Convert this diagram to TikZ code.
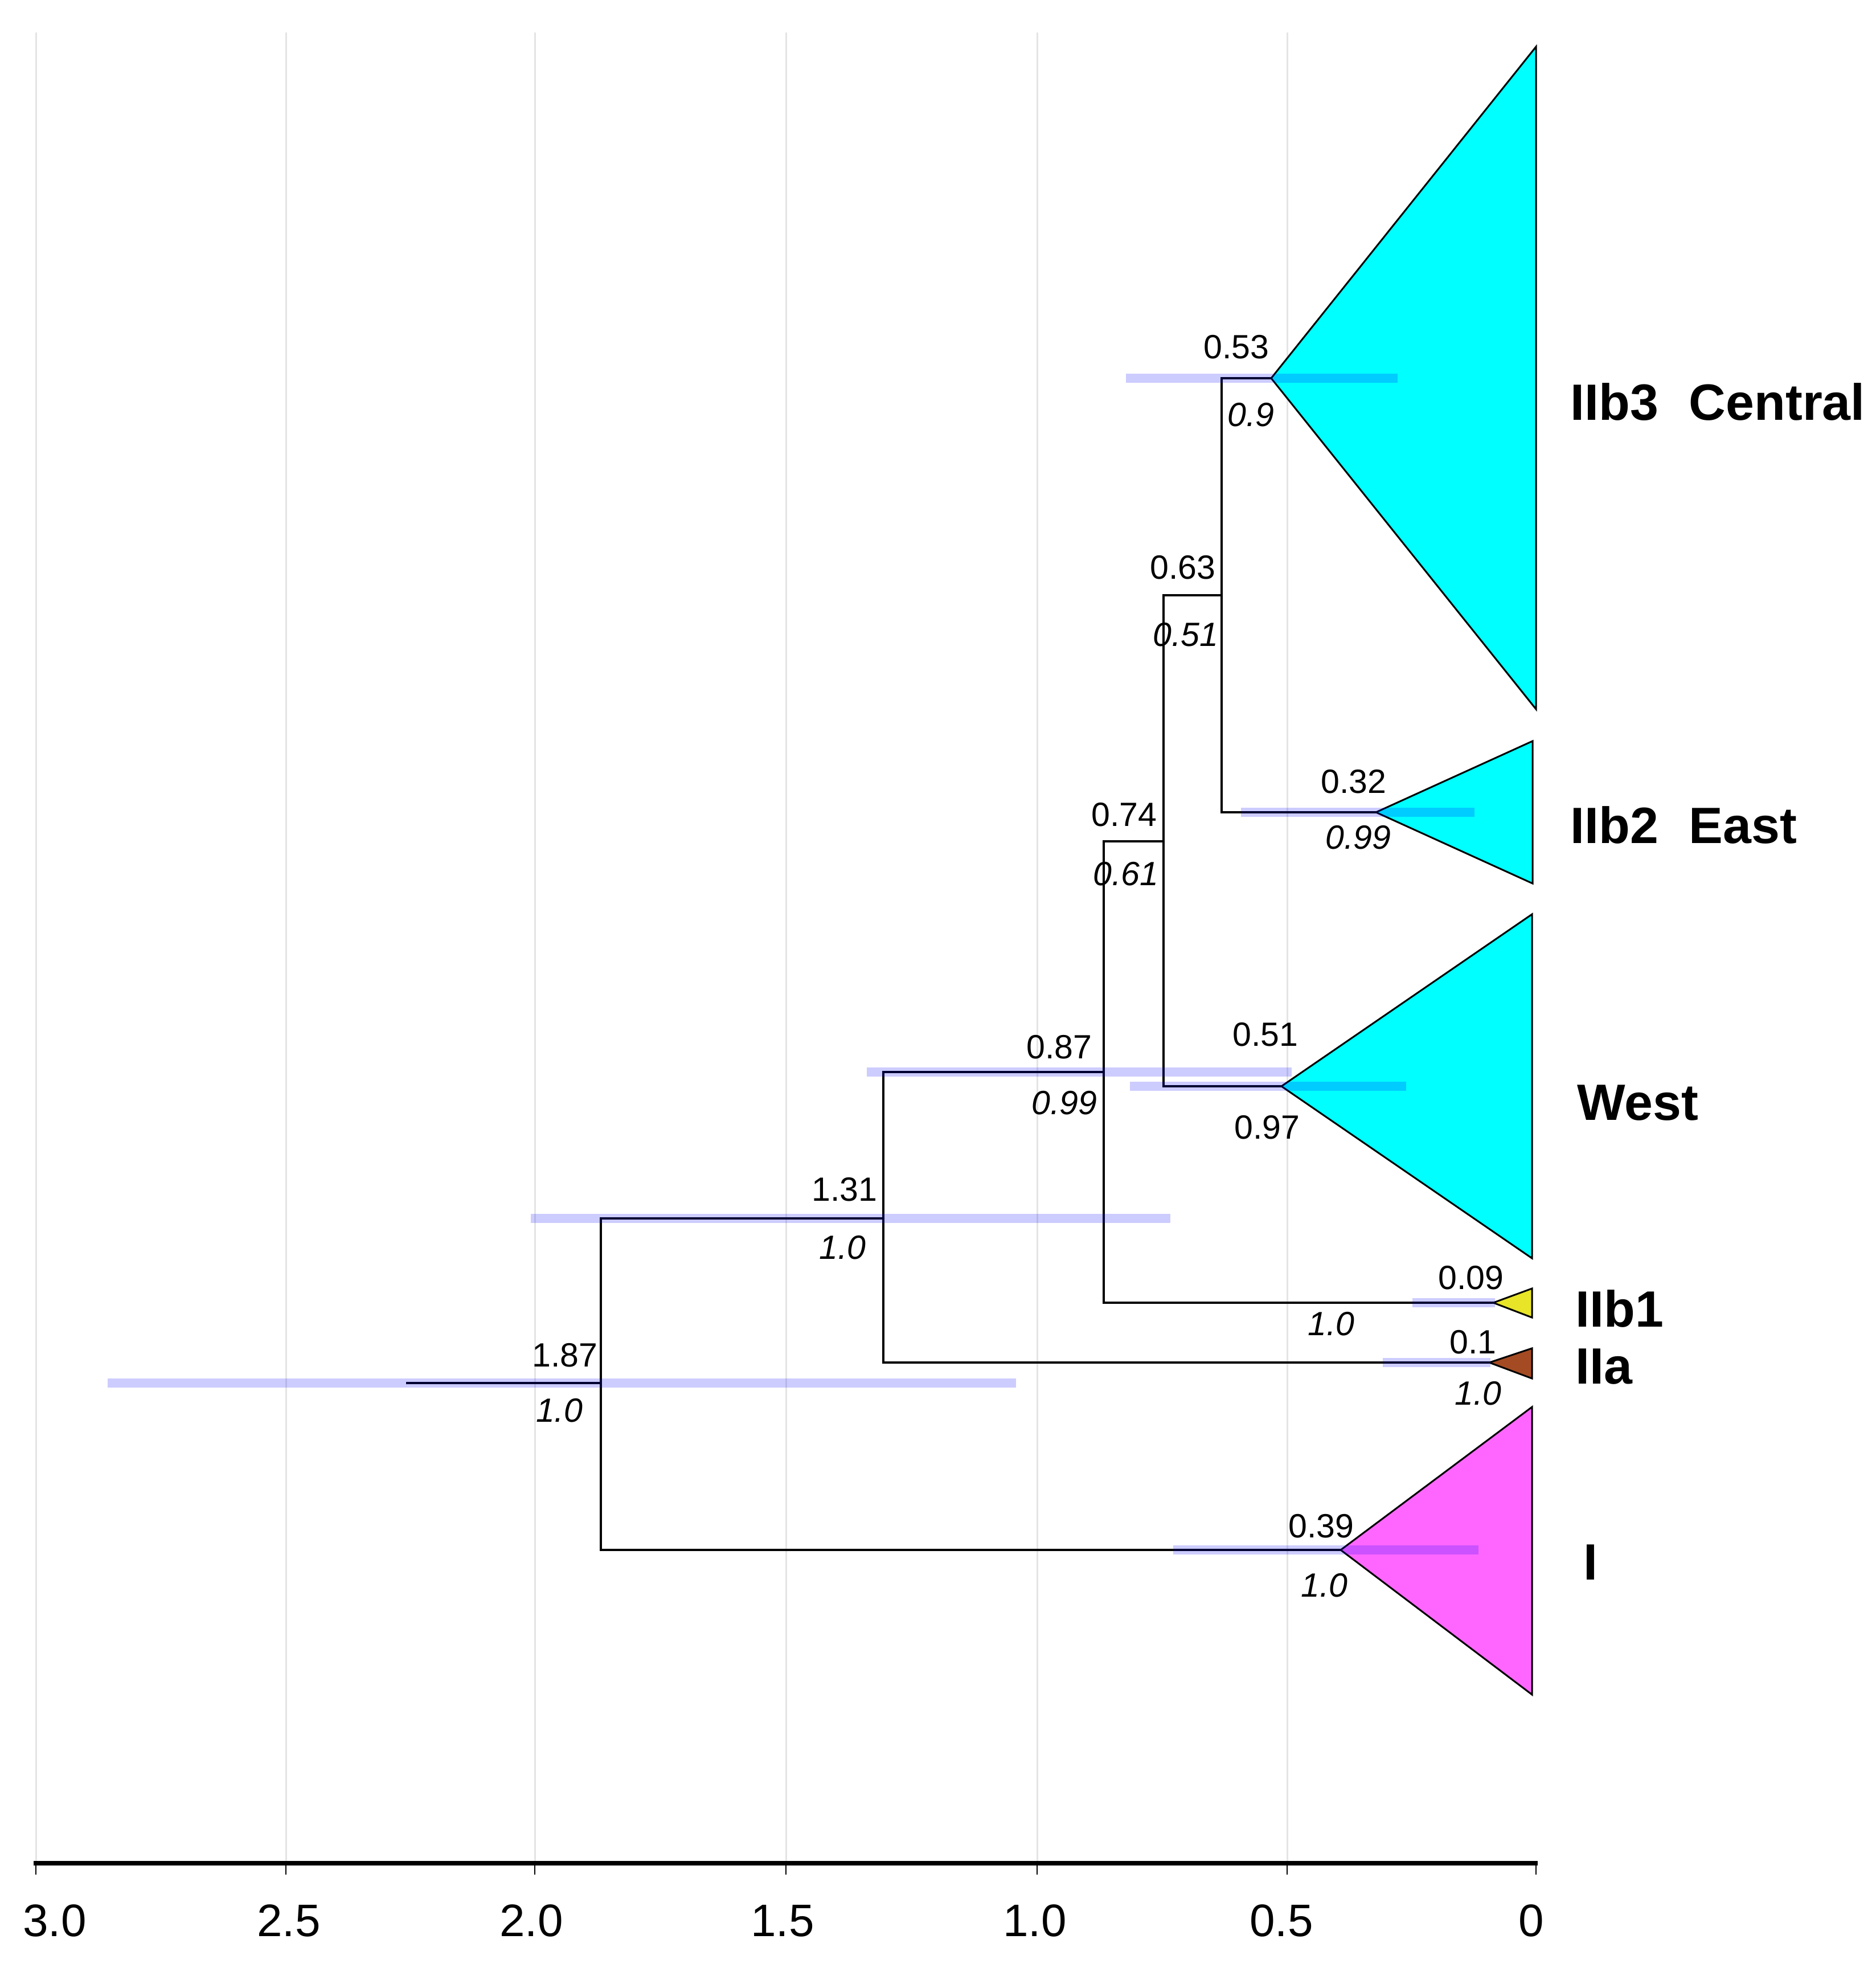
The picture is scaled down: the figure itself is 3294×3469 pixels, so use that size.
\documentclass[tikz,border=0pt]{standalone}
\usepackage{fontspec}
\setmainfont{Liberation Sans}
\newcommand\rsAge{\fontsize{14.75pt}{17pt}\selectfont}
\newcommand\rsPost{\fontsize{14.75pt}{17pt}\selectfont\itshape}
\newcommand\rsTick{\fontsize{20pt}{24pt}\selectfont}
\newcommand\rsLab{\fontsize{22.4pt}{26pt}\selectfont\bfseries}
\definecolor{cladecyan}{RGB}{0,255,255}
\definecolor{clademag}{RGB}{255,102,255}
\definecolor{cladeyel}{RGB}{232,228,40}
\definecolor{cladebrown}{RGB}{165,75,35}
\definecolor{gridgray}{RGB}{228,228,228}
\begin{document}
\begin{tikzpicture}[x=0.25pt,y=-0.25pt,
  gridline/.style={draw=gridgray,line width=0.75pt},
  branch/.style={draw=black,line width=1.1pt,line cap=rect},
  hpd/.style={draw=blue,draw opacity=0.2,line width=4pt},
  cladetri/.style={draw=black,line width=0.75pt,line join=miter},
  age/.style={inner sep=0pt,font=\rsAge,anchor=base east},
  post/.style={inner sep=0pt,font=\rsPost,anchor=base east},
  ticklab/.style={inner sep=0pt,font=\rsTick,anchor=base},
  lab/.style={inner sep=0pt,font=\rsLab,anchor=base west}]
\useasboundingbox (0,0) rectangle (3294,3469);

% grid lines
\foreach \gx in {63,502,939,1380,1821,2260}
  \draw[gridline] (\gx,57) -- (\gx,3271);

% axis
\coordinate (axL) at (59,3271);
\coordinate (axR) at (2700,3271);
\draw[line width=2pt] (axL) -- (axR);
\foreach \gx in {63,502,939,1380,1821,2260,2697}
  \draw[line width=0.5pt] (\gx,3271) -- (\gx,3291);
\node[ticklab] (t30) at (96,3399) {3.0};
\node[ticklab] (t25) at (507,3399) {2.5};
\node[ticklab] (t20) at (933,3399) {2.0};
\node[ticklab] (t15) at (1374,3399) {1.5};
\node[ticklab] (t10) at (1817,3399) {1.0};
\node[ticklab] (t05) at (2250,3399) {0.5};
\node[ticklab] (t00) at (2689,3399) {0};

% tree node coordinates
\coordinate (central) at (2232,664);
\coordinate (east) at (2416,1426);
\coordinate (west) at (2250,1907);
\coordinate (iib1) at (2622,2287);
\coordinate (iia) at (2615,2392);
\coordinate (cI) at (2354,2721);
\coordinate (n063) at (2145,1045);
\coordinate (n074) at (2043,1477);
\coordinate (n087) at (1938,1882);
\coordinate (n131) at (1551,2139);
\coordinate (n187) at (1055,2428);
\coordinate (root) at (715,2428);

% collapsed clades
\draw[cladetri,fill=cladecyan] (central) -- (2697,82) -- (2697,1245) -- cycle;
\draw[cladetri,fill=cladecyan] (east) -- (2691,1301) -- (2691,1551) -- cycle;
\draw[cladetri,fill=cladecyan] (west) -- (2690,1605) -- (2690,2209) -- cycle;
\draw[cladetri,fill=cladeyel] (iib1) -- (2690,2262) -- (2690,2313) -- cycle;
\draw[cladetri,fill=cladebrown] (iia) -- (2690,2367) -- (2690,2420) -- cycle;
\draw[cladetri,fill=clademag] (cI) -- (2690,2470) -- (2690,2975) -- cycle;

% branches
\draw[branch] (central) -- (central -| n063) -- (east -| n063) -- (east);
\draw[branch] (n063) -- (n063 -| n074);
\draw[branch] (n063 -| n074) -- (west -| n074) -- (west);
\draw[branch] (n074) -- (n074 -| n087);
\draw[branch] (n074 -| n087) -- (iib1 -| n087) -- (iib1);
\draw[branch] (n087) -- (n087 -| n131);
\draw[branch] (n087 -| n131) -- (iia -| n131) -- (iia);
\draw[branch] (n131) -- (n131 -| n187);
\draw[branch] (n131 -| n187) -- (cI -| n187) -- (cI);
\draw[branch] (root) -- (n187);

% HPD bars
\draw[hpd] (1977,664) -- (2454,664);
\draw[hpd] (2179,1426) -- (2589,1426);
\draw[hpd] (1522,1882) -- (2268,1882);
\draw[hpd] (1984,1907) -- (2469,1907);
\draw[hpd] (932,2139) -- (2055,2139);
\draw[hpd] (189,2428) -- (1784,2428);
\draw[hpd] (2480,2287) -- (2625,2287);
\draw[hpd] (2428,2392) -- (2617,2392);
\draw[hpd] (2060,2721) -- (2596,2721);

% ages and posteriors
\node[age] (a053) at (2229,629) {0.53};
\node[post] (p053) at (2238,748) {0.9};
\node[age] (a063) at (2135,1016) {0.63};
\node[post] (p063) at (2140,1134) {0.51};
\node[age] (a074) at (2032,1450) {0.74};
\node[post] (p074) at (2035,1554) {0.61};
\node[age] (a032) at (2435,1392) {0.32};
\node[post] (p032) at (2443,1490) {0.99};
\node[age] (a087) at (1918,1858) {0.87};
\node[post] (p087) at (1927,1956) {0.99};
\node[age] (a051) at (2280,1836) {0.51};
\node[age] (p051) at (2283,1999) {0.97};
\node[age] (a131) at (1541,2108) {1.31};
\node[post] (p131) at (1521,2210) {1.0};
\node[age] (a187) at (1050,2399) {1.87};
\node[post] (p187) at (1024,2496) {1.0};
\node[age] (a009) at (2641,2263) {0.09};
\node[post] (p009) at (2379,2344) {1.0};
\node[age] (a010) at (2628,2376) {0.1};
\node[post] (p010) at (2637,2466) {1.0};
\node[age] (a039) at (2378,2699) {0.39};
\node[post] (p039) at (2367,2803) {1.0};

% clade labels
\node[lab] (lcentral) at (2757,737) {IIb3\hspace{0.6em}Central};
\node[lab] (least) at (2757,1480) {IIb2\hspace{0.6em}East};
\node[lab] (lwest) at (2769,1966) {West};
\node[lab] (liib1) at (2766,2329) {IIb1};
\node[lab] (liia) at (2766,2429) {IIa};
\node[lab] (lI) at (2780,2773) {I};
\end{tikzpicture}
\end{document}
